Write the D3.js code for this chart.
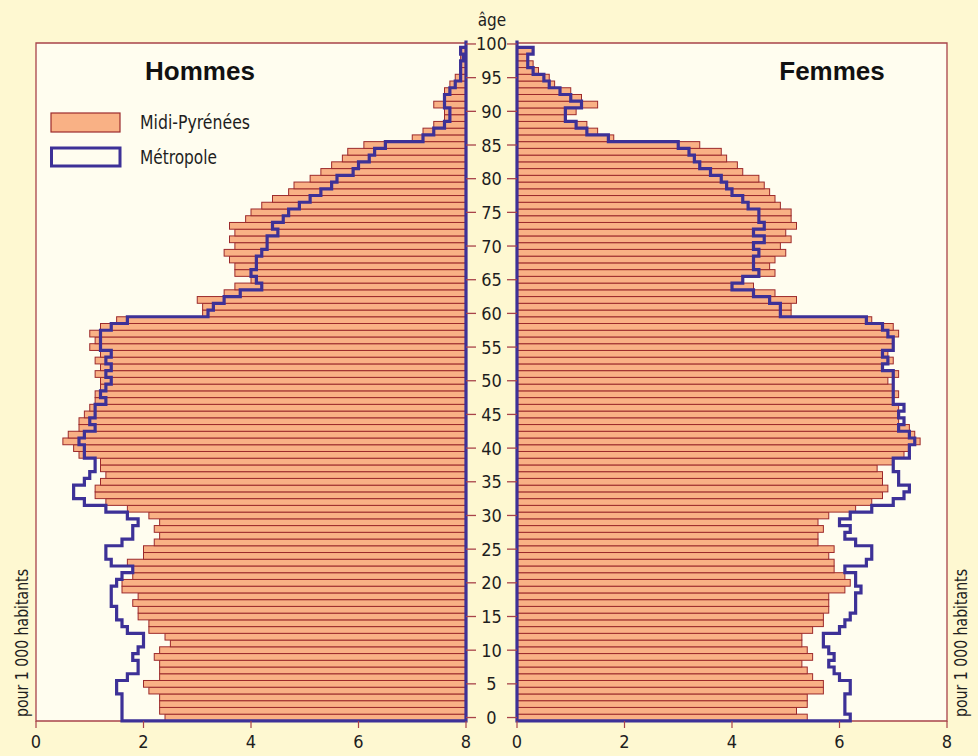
<!DOCTYPE html>
<html><head><meta charset="utf-8">
<script src="https://cdn.jsdelivr.net/npm/d3@7"></script>
<style>
body{margin:0;background:#fef8d1;}
svg{display:block}
</style>
</head><body>
<svg id="chart" width="978" height="756"></svg>
<script>
// ---- data (pour 1 000 habitants), ages 0..100 ----
const ages = d3.range(0, 101);
const mpHommes = [
 5.6,5.7,5.7,5.7,5.9,6.0,5.7,5.7,5.7,5.8,
 5.7,5.5,5.6,5.9,5.9,6.1,6.1,6.2,6.1,6.4,
 6.4,6.2,6.2,6.3,6.0,6.0,5.8,5.7,5.8,5.7,
 5.9,6.3,6.7,6.9,6.9,6.8,6.7,6.8,6.8,7.2,
 7.3,7.5,7.4,7.2,7.2,7.1,7.0,6.9,6.9,6.8,
 6.8,6.9,6.8,6.9,6.8,7.0,6.9,7.0,6.8,6.5,
 4.9,4.9,5.0,4.5,4.3,4.0,4.3,4.3,4.4,4.5,
 4.3,4.4,4.3,4.4,4.1,4.0,3.8,3.6,3.3,3.2,
 2.9,2.7,2.5,2.3,2.2,1.9,1.0,0.8,0.6,0.4,
 0.4,0.6,0.4,0.4,0.3,0.2,0.1,0.1,0.1,0.1,
 0.0];
const metroHommes = [
 6.4,6.4,6.4,6.4,6.5,6.5,6.3,6.1,6.1,6.2,
 6.1,6.0,6.0,6.3,6.4,6.5,6.5,6.6,6.6,6.6,
 6.5,6.4,6.2,6.6,6.7,6.7,6.4,6.2,6.2,6.1,
 6.3,6.7,7.1,7.3,7.3,7.1,7.0,6.9,6.9,7.1,
 7.1,7.2,7.1,6.9,7.0,6.9,6.9,6.7,6.8,6.7,
 6.6,6.7,6.6,6.7,6.6,6.8,6.8,6.8,6.6,6.3,
 4.8,4.7,4.5,4.2,3.8,3.9,4.0,3.9,3.9,3.8,
 3.7,3.7,3.5,3.6,3.4,3.3,3.1,2.9,2.7,2.5,
 2.4,2.1,2.0,1.8,1.7,1.5,0.8,0.6,0.4,0.3,
 0.3,0.4,0.4,0.3,0.2,0.1,0.1,0.1,0.05,0.1,
 0.0];
const mpFemmes = [
 5.4,5.2,5.4,5.4,5.7,5.7,5.5,5.4,5.3,5.5,
 5.4,5.3,5.3,5.5,5.7,5.7,5.8,5.8,5.8,6.1,
 6.2,6.1,5.9,5.9,5.8,5.9,5.6,5.6,5.7,5.6,
 5.8,6.3,6.6,6.8,6.9,6.8,6.8,6.7,7.0,7.2,
 7.3,7.5,7.4,7.3,7.1,7.1,7.1,7.0,7.1,7.0,
 6.9,7.1,6.8,7.0,6.9,7.0,7.0,7.1,7.0,6.6,
 5.1,5.1,5.2,4.8,4.4,4.2,4.8,4.7,4.8,5.0,
 4.9,5.1,5.0,5.2,5.1,5.1,4.9,4.8,4.7,4.6,
 4.5,4.2,4.1,3.9,3.8,3.4,1.8,1.5,1.3,0.9,
 1.1,1.5,1.2,1.0,0.7,0.6,0.4,0.3,0.2,0.3,
 0.0];
const metroFemmes = [
 6.2,6.1,6.1,6.1,6.2,6.2,6.0,5.9,5.8,5.9,
 5.8,5.7,5.7,6.0,6.1,6.2,6.3,6.3,6.3,6.4,
 6.3,6.3,6.1,6.5,6.6,6.6,6.3,6.1,6.2,6.0,
 6.2,6.6,7.0,7.2,7.3,7.1,7.1,7.0,7.0,7.3,
 7.3,7.4,7.3,7.1,7.2,7.1,7.2,7.0,7.0,7.0,
 7.0,7.0,6.8,6.9,6.8,7.0,7.0,6.9,6.8,6.5,
 4.9,4.9,4.7,4.4,4.0,4.2,4.5,4.4,4.4,4.5,
 4.4,4.6,4.4,4.6,4.5,4.5,4.3,4.2,4.0,3.9,
 3.8,3.6,3.4,3.3,3.2,3.0,1.7,1.3,1.1,0.9,
 0.9,1.2,1.0,0.8,0.6,0.5,0.3,0.2,0.2,0.3,
 0.0];
const xTicks = [0, 2, 4, 6, 8];
const ageTicks = d3.range(0, 101, 5);
const legendLabels = ["Midi-Pyrénées", "Métropole"];
const sexLabels = ["Hommes", "Femmes"];
const unitLabel = "pour 1 000 habitants";

// ---- styles ----
const C = {
  bg: "#fef8d1", panel: "#fffdef", frame: "#a8434a",
  barFill: "#f9b185", barStroke: "#9c2a2c", metro: "#3d3197", text: "#1e1e1e"
};
const numFont = "'Liberation Sans Narrow','Arial Narrow','DejaVu Sans Condensed',sans-serif";

const svg = d3.select("#chart");
const Lx0 = 36, Lx1 = 466, Rx0 = 517, Rx1 = 947;
const yTop = 43, yBot = 721;

// scales
const xLBar = d3.scaleLinear().domain([0, 8]).range([Lx1, Lx0]);   // bar length, from centre
const xLAxis = d3.scaleLinear().domain([0, 8]).range([Lx0, Lx1]);  // labels as printed
const xR = d3.scaleLinear().domain([0, 8]).range([Rx0, Rx1]);
const y = d3.scaleBand().domain(ages.slice().reverse()).range([40.6, 720.9]).padding(0);
const bw = y.bandwidth();
const yc = a => y(a) + bw / 2;

svg.append("rect").attr("width", 978).attr("height", 756).attr("fill", C.bg);

// panels
svg.append("rect").attr("x", Lx0).attr("y", yTop).attr("width", Lx1 - Lx0).attr("height", yBot - yTop).attr("fill", C.panel);
svg.append("rect").attr("x", Rx0).attr("y", yTop).attr("width", Rx1 - Rx0).attr("height", yBot - yTop).attr("fill", C.panel);

// bars
const gBars = svg.append("g");
gBars.selectAll("rect.h").data(ages).join("rect")
  .attr("class", "h")
  .attr("x", a => xLBar(mpHommes[a]))
  .attr("y", a => y(a))
  .attr("width", a => Lx1 - xLBar(mpHommes[a]))
  .attr("height", bw)
  .attr("fill", C.barFill).attr("stroke", C.barStroke).attr("stroke-width", 1);
gBars.selectAll("rect.f").data(ages).join("rect")
  .attr("class", "f")
  .attr("x", Rx0)
  .attr("y", a => y(a))
  .attr("width", a => xR(mpFemmes[a]) - Rx0)
  .attr("height", bw)
  .attr("fill", C.barFill).attr("stroke", C.barStroke).attr("stroke-width", 1);

// frames
const fr = svg.append("g").attr("fill", "none").attr("stroke", C.frame).attr("stroke-width", 1.3);
fr.append("path").attr("d", `M${Lx1},${yTop}H${Lx0}V${yBot}H${Lx1}V${yTop}`);
fr.append("path").attr("d", `M${Rx0},${yTop}H${Rx1}V${yBot}H${Rx0}V${yTop}`);

// metropole outlines
function outline(vals, xs, xCentre) {
  const pts = [[xCentre, y(0) + bw]];
  ages.forEach(a => {
    const x = xs(vals[a]);
    pts.push([x, y(a) + bw]);
    pts.push([x, y(a)]);
  });
  pts.push([xCentre, y(100)]);
  return d3.line()(pts) + "Z";
}
svg.append("path").attr("d", outline(metroHommes, xLBar, Lx1))
  .attr("fill", "none").attr("stroke", C.metro).attr("stroke-width", 3.2).attr("stroke-linejoin", "miter");
svg.append("path").attr("d", outline(metroFemmes, xR, Rx0))
  .attr("fill", "none").attr("stroke", C.metro).attr("stroke-width", 3.2).attr("stroke-linejoin", "miter");

// age axis in the middle
const ga = svg.append("g");
ga.selectAll("line.l").data(ageTicks).join("line")
  .attr("class", "l")
  .attr("x1", Lx1).attr("x2", Lx1 + 10).attr("y1", a => yc(a)).attr("y2", a => yc(a))
  .attr("stroke", C.frame).attr("stroke-width", 1.3);
ga.selectAll("line.r").data(ageTicks).join("line")
  .attr("class", "r")
  .attr("x1", Rx0 - 10).attr("x2", Rx0).attr("y1", a => yc(a)).attr("y2", a => yc(a))
  .attr("stroke", C.frame).attr("stroke-width", 1.3);
ga.selectAll("text").data(ageTicks).join("text")
  .attr("x", (Lx1 + Rx0) / 2).attr("y", a => yc(a) + 6.5)
  .attr("text-anchor", "middle").attr("font-family", numFont).attr("font-size", 18)
  .attr("fill", C.text).text(a => a);
svg.append("text").attr("x", 492).attr("y", 26).attr("text-anchor", "middle")
  .attr("font-family", numFont).attr("font-size", 17).attr("fill", C.text).text("âge");

// bottom axes
const gb = svg.append("g");
function bottomAxis(scale) {
  gb.append("g").selectAll("line").data(xTicks).join("line")
    .attr("x1", d => scale(d)).attr("x2", d => scale(d)).attr("y1", yBot).attr("y2", yBot + 7)
    .attr("stroke", C.frame).attr("stroke-width", 1.2);
  gb.append("g").selectAll("text").data(xTicks).join("text")
    .attr("x", d => scale(d)).attr("y", yBot + 27)
    .attr("text-anchor", "middle").attr("font-family", numFont).attr("font-size", 18)
    .attr("fill", C.text).text(d => d);
}
bottomAxis(xLAxis);
bottomAxis(xR);

// unit labels
[22, 961].forEach(x => {
  svg.append("text").attr("transform", `translate(${x},717) rotate(-90)`)
    .attr("dy", "0.35em").attr("font-family", numFont).attr("font-size", 17)
    .attr("textLength", 148).attr("lengthAdjust", "spacingAndGlyphs")
    .attr("fill", C.text).text(unitLabel);
});

// titles
svg.append("text").attr("x", 200).attr("y", 80).attr("text-anchor", "middle")
  .attr("font-family", "'Liberation Sans',Arial,sans-serif").attr("font-weight", "bold")
  .attr("font-size", 26).attr("fill", "#111").text(sexLabels[0]);
svg.append("text").attr("x", 832).attr("y", 80).attr("text-anchor", "middle")
  .attr("font-family", "'Liberation Sans',Arial,sans-serif").attr("font-weight", "bold")
  .attr("font-size", 26).attr("fill", "#111").text(sexLabels[1]);

// legend
const lg = svg.append("g");
lg.append("rect").attr("x", 51).attr("y", 113).attr("width", 69).attr("height", 19)
  .attr("fill", C.barFill).attr("stroke", C.barStroke).attr("stroke-width", 1.2);
lg.append("rect").attr("x", 51.5).attr("y", 148).attr("width", 68.5).attr("height", 18)
  .attr("fill", C.panel).attr("stroke", C.metro).attr("stroke-width", 3);
lg.append("text").attr("x", 140).attr("y", 129).attr("font-family", numFont).attr("font-size", 19)
  .attr("textLength", 110).attr("lengthAdjust", "spacingAndGlyphs").attr("fill", C.text).text(legendLabels[0]);
lg.append("text").attr("x", 140).attr("y", 164).attr("font-family", numFont).attr("font-size", 19)
  .attr("textLength", 77).attr("lengthAdjust", "spacingAndGlyphs").attr("fill", C.text).text(legendLabels[1]);
</script>
</body></html>
